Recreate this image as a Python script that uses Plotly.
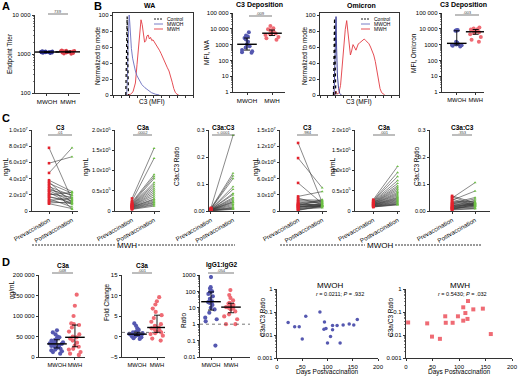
import numpy as np
import plotly.graph_objects as go

W, H = 520, 378
FONT = "Liberation Sans, Arial, sans-serif"

# ---------------- data ----------------
groups = ["MWOH", "MWH"]
timepoints = ["Prevaccination", "Postvaccination"]

# A: endpoint titer
titer_mwoh = [1150, 1100, 1200, 1050, 1120, 1180, 1080, 1130, 1160, 1090, 1140, 1110, 1170, 1060, 1125, 1105, 1135, 1095]
titer_mwh = [1150, 1250, 1100, 1050, 1200, 1180, 1000, 1130, 1220, 1080, 1160, 1110, 1190, 1070, 1140, 1230, 1120, 1020]

# B: histograms (C3 MFI, % of mode)
wa_ctrl_x = [16.0, 16.8, 17.3, 17.7, 18.1, 18.6, 19.3]
wa_ctrl_y = [0, 30, 80, 98, 70, 20, 0]
wa_mwoh_x = [17.0, 18.0, 18.8, 19.5, 20.2, 21.0, 22.0, 23.0, 24.5, 26.0, 28.0, 30.0, 33.0, 36.0, 40.0, 44.0, 48.0, 53.0, 58.0]
wa_mwoh_y = [0, 20, 60, 92, 100, 90, 72, 58, 46, 38, 30, 24, 18, 13, 9, 6, 3, 1, 0]
wa_mwh_x = [18, 22, 25, 28, 30, 32, 33.5, 35, 36.5, 38, 39.5, 41, 42.5, 44, 45.5, 47, 48.5, 50, 52, 54, 56, 58,
            60, 62, 64, 66, 68, 70, 72, 74, 76, 78, 80, 82]
wa_mwh_y = [0, 1, 4, 15, 38, 65, 85, 94, 88, 76, 66, 68, 74, 75, 70, 72, 68, 69, 66, 63, 60, 56,
            52, 47, 43, 39, 34, 30, 24, 16, 8, 3, 1, 0]
om_ctrl_x = [17.0, 17.8, 18.4, 18.9, 19.4, 20.0]
om_ctrl_y = [0, 40, 96, 60, 10, 0]
om_mwoh_x = [17.8, 18.8, 19.6, 20.3, 21.0, 22.0, 23.5, 25, 27]
om_mwoh_y = [0, 35, 90, 98, 60, 25, 8, 2, 0]
om_mwh_x = [18, 20, 21, 22, 24, 26, 28, 30, 32, 33.8, 35.5, 37, 38.5, 40, 41.8, 43.5, 45.5, 47, 48.5, 50, 52,
            54, 56, 58, 60, 62, 64, 66, 68, 70, 72, 74, 76, 78, 80, 82]
om_mwh_y = [0, 5, 3, 1, 3, 12, 35, 62, 82, 93, 78, 58, 50, 55, 63, 60, 56, 60, 64, 65, 67,
            69, 70, 68, 66, 64, 60, 56, 50, 42, 30, 18, 8, 3, 1, 0]

# B: C3 deposition
wa_dep_mwoh = [6000, 3800, 3300, 2600, 2100, 1500, 1050, 800, 650, 450, 380, 330, 300]
wa_dep_mwh = [15000, 11000, 9500, 8000, 6500, 5500, 5000, 4500, 4000, 3000, 2500, 2000]
om_dep_mwoh = [8500, 8200, 7800, 7500, 1500, 1300, 1200, 1100, 1000, 950, 900, 850, 750]
om_dep_mwh = [12000, 10500, 9500, 9000, 8000, 7000, 6500, 6000, 5500, 4500, 3000, 2000, 1500]

# C: paired pre/post
mwh_c3_pre = [7.8e6, 5.9e6, 4.7e6, 3.8e6, 3.6e6, 3.4e6, 3.2e6, 3.0e6, 2.8e6, 2.6e6, 2.5e6, 2.3e6, 2.1e6, 2.0e6,
              1.8e6, 1.7e6, 1.5e6, 1.3e6, 1.2e6, 1.0e6, 0.9e6]
mwh_c3_post = [1.4e6, 6.7e6, 7.8e6, 2.4e6, 1.0e6, 2.2e6, 0.2e6, 1.9e6, 1.5e6, 2.0e6, 1.2e6, 0.8e6, 1.7e6, 2.3e6,
               1.0e6, 1.3e6, 0.5e6, 1.6e6, 0.9e6, 1.1e6, 0.3e6]
mwh_c3a_pre = [31000, 25000, 22000, 20000, 18000, 17000, 16000, 15000, 14000, 13000, 12000, 12000, 11000, 10000,
               10000, 9000, 8000, 7000, 6000, 5000, 4000]
mwh_c3a_post = [155000, 130000, 90000, 85000, 80000, 70000, 65000, 60000, 55000, 50000, 45000, 40000, 35000, 30000,
                28000, 25000, 22000, 20000, 17000, 15000, 12000]
mwh_ratio_pre = [0.012, 0.010, 0.009, 0.008, 0.008, 0.007, 0.006, 0.006, 0.005, 0.005, 0.004, 0.004, 0.004, 0.003,
                 0.003, 0.003, 0.002, 0.002, 0.002, 0.001, 0.001]
mwh_ratio_post = [0.28, 0.14, 0.13, 0.12, 0.09, 0.08, 0.065, 0.06, 0.05, 0.045, 0.04, 0.035, 0.033, 0.03, 0.025,
                  0.02, 0.015, 0.012, 0.01, 0.008, 0.006]
mwoh_c3_pre = [12.6e6, 9.8e6, 5.2e6, 2.7e6, 2.4e6, 2.1e6, 1.9e6, 1.7e6, 1.5e6, 1.4e6, 1.3e6, 1.2e6, 1.1e6, 1.1e6,
               1.0e6, 0.9e6, 0.8e6, 0.8e6, 0.7e6, 0.6e6, 0.5e6, 0.4e6, 0.3e6, 0.2e6, 0.1e6]
mwoh_c3_post = [1.6e6, 4.3e6, 1.4e6, 3.6e6, 1.2e6, 2.0e6, 1.8e6, 1.5e6, 1.9e6, 1.0e6, 1.1e6, 1.7e6, 0.9e6, 1.3e6,
                2.1e6, 0.8e6, 1.2e6, 1.0e6, 0.9e6, 1.4e6, 0.7e6, 1.1e6, 0.6e6, 0.9e6, 1.0e6]
mwoh_c3a_pre = [28000, 26000, 25000, 24000, 23000, 22000, 21000, 20000, 20000, 19000, 18000, 18000, 17000, 16000,
                16000, 15000, 15000, 14000, 13000, 13000, 12000, 12000, 11000, 10000, 10000]
mwoh_c3a_post = [110000, 95000, 85000, 75000, 68000, 62000, 58000, 54000, 50000, 46000, 43000, 40000, 37000, 34000,
                 32000, 30000, 28000, 26000, 24000, 22000, 20000, 18000, 17000, 16000, 15000]
mwoh_ratio_pre = [0.056, 0.052, 0.048, 0.044, 0.040, 0.036, 0.033, 0.030, 0.028, 0.026, 0.024, 0.022, 0.020, 0.018,
                  0.016, 0.015, 0.014, 0.012, 0.011, 0.010, 0.009, 0.008, 0.006, 0.005, 0.004]
mwoh_ratio_post = [0.030, 0.025, 0.105, 0.020, 0.074, 0.035, 0.028, 0.050, 0.022, 0.045, 0.030, 0.018, 0.026, 0.040,
                   0.024, 0.020, 0.032, 0.015, 0.028, 0.012, 0.022, 0.018, 0.010, 0.025, 0.008]

# D
d_c3a_mwoh = [65000, 60000, 55000, 50000, 48000, 45000, 42000, 40000, 38000, 36000, 34000, 33000, 32000, 30000,
              28000, 27000, 25000, 24000, 22000, 20000, 18000, 16000, 14000, 12000, 8000]
d_c3a_mwh = [152000, 125000, 100000, 82000, 80000, 78000, 72000, 62000, 55000, 50000, 48000, 45000, 40000, 35000,
             28000, 25000, 20000, 18000, 12000, 8000, 5000]
d_fold_mwoh = [3.2, 2.6, 2.0, 1.6, 1.3, 1.1, 1.0, 0.9, 0.8, 0.7, 0.6, 0.55, 0.5, 0.45, 0.4, 0.3, 0.2, 0.1, 0.0,
               -0.2, -0.4, -0.6, 0.35, 0.65]
d_fold_mwh = [9.6, 8.6, 7.8, 6.8, 6.0, 5.2, 4.5, 3.6, 3.0, 2.6, 2.2, 2.0, 1.8, 1.5, 1.2, 1.0, 0.6, 0.2, -0.5, -1.0, 0.8]
d_igg_mwoh = [750, 180, 150, 110, 100, 90, 70, 50, 35, 25, 22, 20, 15, 10, 8, 5, 2.5, 2, 1.5, 0.05]
d_igg_mwh = [120, 60, 40, 28, 20, 18, 15, 13, 12, 11, 10, 9, 8, 6, 4, 3, 2, 1, 1]
days_mwoh = [22, 35, 44, 50, 57, 85, 94, 93, 97, 100, 106, 110, 110, 119, 125, 131, 143, 152, 159]
ratio_mwoh = [0.035, 0.023, 0.023, 0.0067, 0.065, 0.1, 0.037, 0.018, 0.019, 0.0045, 0.0085, 0.026, 0.017, 0.026,
              0.0045, 0.027, 0.03, 0.027, 0.047]
days_mwh = [4, 40, 49, 64, 74, 75, 88, 98, 108, 108, 112, 116, 117, 127, 145, 160]
ratio_mwh = [0.035, 0.032, 0.0085, 0.0068, 0.065, 0.034, 0.034, 0.065, 0.16, 0.042, 0.09, 0.05, 0.3, 0.13, 0.14, 0.011]

# tick labels
titer_tv = [100, 1000, 10000]; titer_tt = ["100", "1000", "10 000"]
hist_tv = [0, 20, 40, 60, 80, 100]; hist_tt = ["0", "20", "40", "60", "80", "100"]
dep_tv = [1, 10, 100, 1000, 10000, 100000]; dep_tt = ["1", "10", "100", "1000", "10 000", "100 000"]
c3mwh_tv = [0, 2e6, 4e6, 6e6, 8e6, 1e7]
c3mwh_tt = ["0", "2.0x10<sup>6</sup>", "4.0x10<sup>6</sup>", "6.0x10<sup>6</sup>", "8.0x10<sup>6</sup>", "1.0x10<sup>7</sup>"]
c3a_tv = [0, 5e4, 1e5, 1.5e5, 2e5]
c3a_tt = ["0", "0.5x10<sup>5</sup>", "1.0x10<sup>5</sup>", "1.5x10<sup>5</sup>", "2.0x10<sup>5</sup>"]
ratio_tv = [0, 0.1, 0.2, 0.3]; ratio_tt = ["0.00", "0.1", "0.2", "0.3"]
c3mwoh_tv = [0, 3e6, 6e6, 9e6, 1.2e7, 1.5e7]
c3mwoh_tt = ["0", "3.0x10<sup>6</sup>", "6.0x10<sup>6</sup>", "9.0x10<sup>6</sup>", "1.2x10<sup>7</sup>", "1.5x10<sup>7</sup>"]
d1_tv = [0, 50000, 100000, 150000, 200000]; d1_tt = ["0", "50 000", "100 000", "150 000", "200 000"]
d2_tv = [-5, 0, 5, 10, 15]
d3_tv = [0.01, 0.1, 1, 10, 100, 1000]; d3_tt = ["0.01", "0.1", "1", "10", "100", "1000"]
d45_tv = [0.001, 0.01, 0.1, 1]; d45_tt = ["0.001", "0.01", "0.1", "1"]
days_tv = [0, 50, 100, 150, 200]

# ---------------- styles ----------------
BLUE = "#5558b0"
RED = "#ef6b74"
NAVY = "#2f3290"
DRED = "#e0414b"
PRE_RED = "#e3232d"
POST_GREEN = "#6dbf45"
HIST_BLUE = "#6a6ec0"
HIST_RED = "#e23a42"

fig = go.Figure()
layout = dict(width=W, height=H, margin=dict(l=0, r=0, t=0, b=0, pad=0), autosize=False, template="none",
              paper_bgcolor="white", plot_bgcolor="rgba(0,0,0,0)", showlegend=False,
              font=dict(family=FONT, size=6, color="black"))
shapes, annotations = [], []


def px_x(x):
    return x / W


def px_y(y):
    return 1 - y / H


AX = dict(showline=True, linecolor="black", linewidth=0.8, ticks="outside", ticklen=2.5, tickwidth=0.8,
          tickcolor="black", showgrid=False, zeroline=False, automargin=False,
          tickfont=dict(size=6, family=FONT, color="black"))


def ref(n):
    return ("x", "y") if n == 1 else (f"x{n}", f"y{n}")


def axes(n, x0, x1, y0, y1, xkw, ykw):
    xr, yr = ref(n)
    xa = dict(AX); xa.update(domain=[px_x(x0), px_x(x1)], anchor=yr); xa.update(xkw)
    ya = dict(AX); ya.update(domain=[px_y(y1), px_y(y0)], anchor=xr); ya.update(ykw)
    layout["xaxis" if n == 1 else f"xaxis{n}"] = xa
    layout["yaxis" if n == 1 else f"yaxis{n}"] = ya


def minor_log(lo, hi):
    return dict(ticks="outside", ticklen=1.5, tickwidth=0.5, tickcolor="black",
                tickvals=[m * 10.0 ** e for e in range(lo, hi) for m in range(2, 10)])


def ann(x, y, text, size=6, angle=0, xanchor="center", color="black"):
    annotations.append(dict(x=px_x(x), y=px_y(y), xref="paper", yref="paper", text=text, showarrow=False,
                            font=dict(size=size, family=FONT, color=color), textangle=angle,
                            xanchor=xanchor, yanchor="middle"))


def hline(x0, x1, y, color="black", width=0.8, dash=None):
    ln = dict(color=color, width=width)
    if dash:
        ln["dash"] = dash
    shapes.append(dict(type="line", xref="paper", yref="paper", x0=px_x(x0), x1=px_x(x1),
                       y0=px_y(y), y1=px_y(y), line=ln))


def sig(x0, x1, y, p, title=None, ty=None):
    hline(x0, x1, y, color="#444", width=0.7)
    ann((x0 + x1) / 2, y - 2.8, p, size=4.2, color="#444")
    if title:
        ann((x0 + x1) / 2, ty, "<b>" + title + "</b>", size=6.5)


def dotplot(n, data, colors, size=4, symbol="circle", width=0.8, line_size=14, lw=1.4):
    xr, yr = ref(n)
    for g, vals, c in zip(groups, data, colors):
        fig.add_trace(go.Box(x=[g] * len(vals), y=vals, xaxis=xr, yaxis=yr, boxpoints="all", jitter=1,
                             pointpos=0, width=width, fillcolor="rgba(0,0,0,0)",
                             line=dict(width=0, color="rgba(0,0,0,0)"), whiskerwidth=0,
                             marker=dict(color=c, size=size, symbol=symbol, line=dict(width=0)),
                             hoverinfo="skip"))
    for g, vals in zip(groups, data):
        v = np.asarray(vals, float)
        med = float(np.median(v))
        q1, q3 = (float(q) for q in np.percentile(v, [25, 75]))
        fig.add_trace(go.Scatter(x=[g], y=[med], xaxis=xr, yaxis=yr, mode="markers",
                                 marker=dict(symbol="line-ew", size=line_size, color="black",
                                             line=dict(width=lw, color="black")),
                                 error_y=dict(type="data", symmetric=False, array=[q3 - med],
                                              arrayminus=[med - q1], color="black", thickness=0.9, width=3),
                                 hoverinfo="skip"))


def paired(n, pre, post):
    xr, yr = ref(n)
    xs, ys = [], []
    for a, b in zip(pre, post):
        xs += [timepoints[0], timepoints[1], None]
        ys += [a, b, None]
    fig.add_trace(go.Scatter(x=xs, y=ys, xaxis=xr, yaxis=yr, mode="lines",
                             line=dict(color="#3a3a3a", width=0.6), hoverinfo="skip"))
    fig.add_trace(go.Scatter(x=[timepoints[0]] * len(pre), y=pre, xaxis=xr, yaxis=yr, mode="markers",
                             marker=dict(color=PRE_RED, size=2.6, symbol="square"), hoverinfo="skip"))
    fig.add_trace(go.Scatter(x=[timepoints[1]] * len(post), y=post, xaxis=xr, yaxis=yr, mode="markers",
                             marker=dict(color=POST_GREEN, size=2.6, symbol="triangle-up"), hoverinfo="skip"))


def hist(n, curves):
    xr, yr = ref(n)
    for xs, ys, c, dash, w in curves:
        fig.add_trace(go.Scatter(x=xs, y=ys, xaxis=xr, yaxis=yr, mode="lines",
                                 line=dict(color=c, width=w, dash=dash), hoverinfo="skip"))


def cat_x(rng, arr=groups, angle=0, fsize=6.2):
    return dict(type="category", categoryorder="array", categoryarray=arr, range=rng, tickangle=angle,
                tickfont=dict(size=fsize, family=FONT, color="black"))


# ---------------- Panel A ----------------
axes(1, 35, 80, 15, 93, cat_x([-0.57, 1.57]),
     dict(type="log", range=[2, 4], tickvals=titer_tv, ticktext=titer_tt, minor=minor_log(2, 4)))
dotplot(1, [titer_mwoh, titer_mwh], [NAVY, DRED], size=3.5, width=0.75, line_size=18)
ann(10, 54, "Endpoint Titer", size=6.5, angle=-90)
sig(48, 68, 14, "739")

# ---------------- Panel B ----------------
hist_x = dict(range=[0, 100], dtick=10, tick0=0, showticklabels=False, ticklen=2, mirror=True)
hist_y = dict(range=[0, 102.5], tickvals=hist_tv, ticktext=hist_tt, mirror=True, ticks="outside")
axes(2, 113, 193, 13, 95, hist_x, hist_y)
hist(2, [(wa_mwh_x, wa_mwh_y, HIST_RED, "solid", 0.9), (wa_mwoh_x, wa_mwoh_y, HIST_BLUE, "solid", 0.9),
         (wa_ctrl_x, wa_ctrl_y, "black", "dot", 1.2)])
axes(4, 320, 399, 13, 95, hist_x, hist_y)
hist(4, [(om_mwh_x, om_mwh_y, HIST_RED, "solid", 0.9), (om_mwoh_x, om_mwoh_y, NAVY, "solid", 0.9),
         (om_ctrl_x, om_ctrl_y, "black", "dot", 1.2)])
for x0, cx, tname in ((113, 149, "WA"), (320, 361, "Omicron")):
    ann(cx, 5, "<b>" + tname + "</b>", size=7)
    ann(x0 + 39, 102, "C3 (MFI)", size=6.5)
    ann(x0 - 16, 56, "Normalized to mode", size=6.5, angle=-90)
    lx = x0 + 41
    for yy, lab, col, dsh in ((19, "Control", "black", "2px,1px"), (24, "MWOH", HIST_BLUE, None),
                              (29, "MWH", HIST_RED, None)):
        hline(lx, lx + 9, yy, color=col, width=0.9, dash=dsh)
        ann(lx + 11, yy, lab, size=5, xanchor="left")

dep_y = dict(type="log", range=[0, 5], tickvals=dep_tv, ticktext=dep_tt, minor=minor_log(0, 5))
axes(3, 233, 285, 13, 92, cat_x([-0.56, 1.52]), dep_y)
dotplot(3, [wa_dep_mwoh, wa_dep_mwh], [BLUE, RED], size=4, width=0.7)
ann(259, 5, "<b>C3 Deposition</b>", size=7)
ann(206, 52, "MFI, WA", size=6.5, angle=-90)
sig(249, 272, 16, ".009")

axes(5, 442, 484, 13, 92, cat_x([-0.78, 1.44], fsize=5.8), dep_y)
dotplot(5, [om_dep_mwoh, om_dep_mwh], [BLUE, RED], size=4, width=0.7)
ann(463, 5, "<b>C3 Deposition</b>", size=7)
ann(413, 53, "MFI, Omicron", size=6.5, angle=-90)
sig(455, 479, 15, ".003")

# ---------------- Panel C ----------------
c_specs = [
    (6, 32, 78, [-0.74, 1.26], [0, 1e7], c3mwh_tv, c3mwh_tt, mwh_c3_pre, mwh_c3_post, "C3", ".01", 6, "ng/mL", (48, 72)),
    (7, 115, 160, [-0.77, 1.27], [0, 2e5], c3a_tv, c3a_tt, mwh_c3a_pre, mwh_c3a_post, "C3a", ".0002", 86, "ng/mL", (133, 152)),
    (8, 209, 250, [-0.09, 1.77], [0, 0.3], ratio_tv, ratio_tt, mwh_ratio_pre, mwh_ratio_post, "C3a:C3", "&lt;.0001", 176, "C3a:C3 Ratio", (212, 235)),
    (9, 280, 327, [-0.75, 1.2], [0, 1.5e7], c3mwoh_tv, c3mwoh_tt, mwoh_c3_pre, mwoh_c3_post, "C3", ".984", 256, "ng/mL", (297, 318)),
    (10, 355, 400, [-0.75, 1.1], [0, 2e5], c3a_tv, c3a_tt, mwoh_c3a_pre, mwoh_c3a_post, "C3a", ".001", 333, "ng/mL", (373, 395)),
    (11, 430, 490, [-0.96, 1.65], [0, 0.3], ratio_tv, ratio_tt, mwoh_ratio_pre, mwoh_ratio_post, "C3a:C3", ".353", 416, "C3a:C3 Ratio", (452, 472)),
]
for n, x0, x1, xr_, yr_, tv, tt, pre, post, title, p, lx, ylab, (s0, s1) in c_specs:
    axes(n, x0, x1, 130, 211, cat_x(xr_, timepoints, angle=-30, fsize=6.2),
         dict(range=yr_, tickvals=tv, ticktext=tt, tickfont=dict(size=5.5, family=FONT, color="black")))
    paired(n, pre, post)
    sig(s0, s1, 135, p, title, 127)
    ann(lx, 167, ylab, size=6.5, angle=-90)

hline(32, 116, 245, width=0.8, dash="2px,1px")
hline(138, 235, 245, width=0.8, dash="2px,1px")
ann(127, 245, "MWH", size=8)
hline(280, 365, 245, width=0.8, dash="2px,1px")
hline(395, 482, 245, width=0.8, dash="2px,1px")
ann(380, 245, "MWOH", size=8)

# ---------------- Panel D ----------------
axes(12, 39, 85, 275, 357, cat_x([-1.0, 1.56], fsize=5.8), dict(range=[0, 200000], tickvals=d1_tv, ticktext=d1_tt))
dotplot(12, [d_c3a_mwoh, d_c3a_mwh], [BLUE, RED], size=4.2, width=0.85)
sig(52, 73, 273, ".048", "C3a", 265)
ann(12, 290, "ng/mL", size=6.5, angle=-90)

axes(13, 122, 165, 275, 357, cat_x([-0.75, 1.4], fsize=5.8), dict(range=[-5, 15], tickvals=d2_tv))
dotplot(13, [d_fold_mwoh, d_fold_mwh], [BLUE, RED], size=4.2, width=0.85)
sig(132, 152, 273, ".001", "C3a", 265)
ann(107, 302, "Fold Change", size=6.5, angle=-90)

axes(14, 200, 250, 275, 357, cat_x([-0.55, 1.95], fsize=5.8),
     dict(type="log", range=[-2, 3], tickvals=d3_tv, ticktext=d3_tt, minor=minor_log(-2, 3)))
dotplot(14, [d_igg_mwoh, d_igg_mwh], [BLUE, RED], size=4.2, width=0.85)
sig(208, 234, 273, ".054", "IgG1:IgG2", 265)
ann(183, 320, "Ratio", size=6.5, angle=-90)
for n in (13, 14):
    shapes.append(dict(type="line", xref=f"x{n} domain", yref=f"y{n}", x0=0, x1=1, y0=1, y1=1,
                       line=dict(color="#555", width=0.8, dash="dot")))

d45_y = dict(type="log", range=[-3, 0], tickvals=d45_tv, ticktext=d45_tt, minor=minor_log(-3, 0))
d45_x = dict(range=[0, 200], tickvals=days_tv)
axes(15, 277, 378, 289, 358, d45_x, d45_y)
fig.add_trace(go.Scatter(x=days_mwoh, y=ratio_mwoh, xaxis="x15", yaxis="y15", mode="markers",
                         marker=dict(color=BLUE, size=3.5, symbol="circle"), hoverinfo="skip"))
axes(16, 406, 512, 289, 358, d45_x, d45_y)
fig.add_trace(go.Scatter(x=days_mwh, y=ratio_mwh, xaxis="x16", yaxis="y16", mode="markers",
                         marker=dict(color=RED, size=4, symbol="square"), hoverinfo="skip"))
ann(330, 285, "MWOH", size=8)
ann(340, 294, "<i>r</i> = 0.0211; <i>P</i> = .932", size=5.5)
ann(460, 285, "MWH", size=8)
ann(462, 294, "<i>r</i> = 0.5430; <i>P</i> = .032", size=5.5)
ann(327, 372, "Days Postvaccination", size=6.5)
ann(459, 372, "Days Postvaccination", size=6.5)
ann(262, 318, "C3a/C3 Ratio", size=6.5, angle=-90)
ann(390, 318, "C3a/C3 Ratio", size=6.5, angle=-90)

# panel letters
for L, x, y in (("A", 6, 6), ("B", 98, 6), ("C", 6, 118), ("D", 6, 262)):
    ann(x, y, "<b>" + L + "</b>", size=11)

layout["shapes"] = shapes
layout["annotations"] = annotations
fig.update_layout(**layout)
fig.write_html("out.html", config={"staticPlot": True, "displayModeBar": False},
               post_script="document.body.style.margin='0';document.body.style.padding='0';"
                           "document.body.style.overflow='hidden';")
